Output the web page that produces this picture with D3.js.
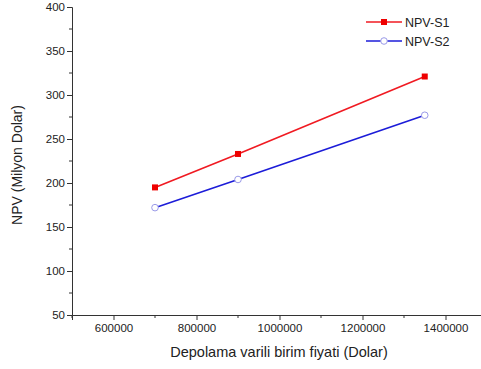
<!DOCTYPE html>
<html>
<head>
<meta charset="utf-8">
<script src="https://cdn.jsdelivr.net/npm/d3@7"></script>
<style>
  body { margin: 0; background: #fff; }
  text { font-family: "Liberation Sans", Arial, sans-serif; fill: #222; }
</style>
</head>
<body>
<div id="plot"></div>
<script>
// data
var prices = [700000, 900000, 1350000];
var npvS1 = [195, 233, 321];
var npvS2 = [172, 204, 277];
var seriesNames = ["NPV-S1", "NPV-S2"];
var xTicks = [600000, 800000, 1000000, 1200000, 1400000];
var xMinor = [500000, 700000, 900000, 1100000, 1300000, 1500000];
var yTicks = [50, 100, 150, 200, 250, 300, 350, 400];
var yMinor = [75, 125, 175, 225, 275, 325, 375];

var svgWidth = 481;
var svgHeight = 369;
var margin = { top: 7, right: 0, bottom: 54, left: 72 };
var height = svgHeight - margin.top - margin.bottom;

var svg = d3.select("#plot")
  .append("svg")
  .attr("width", svgWidth)
  .attr("height", svgHeight);

var chartGroup = svg.append("g")
  .attr("transform", `translate(${margin.left}, ${margin.top})`);

// x axis runs off the right edge of the picture
var xScale = d3.scaleLinear()
  .domain([500000, 1500000])
  .range([0, 415]);

var yScale = d3.scaleLinear()
  .domain([50, 400])
  .range([height, 0]);

var bottomAxis = d3.axisBottom(xScale)
  .tickValues(xTicks)
  .tickFormat(d3.format("d"))
  .tickSizeOuter(0)
  .tickSize(5);

var leftAxis = d3.axisLeft(yScale)
  .tickValues(yTicks)
  .tickSizeOuter(0)
  .tickSize(5);

var xAxisG = chartGroup.append("g")
  .attr("transform", `translate(0, ${height})`)
  .call(bottomAxis);

var yAxisG = chartGroup.append("g")
  .call(leftAxis);

// minor ticks
xAxisG.selectAll(".minor")
  .data(xMinor)
  .enter()
  .append("line")
  .attr("class", "minor")
  .attr("x1", d => xScale(d))
  .attr("x2", d => xScale(d))
  .attr("y1", 0)
  .attr("y2", 3)
  .attr("stroke", "#333");

yAxisG.selectAll(".minor")
  .data(yMinor)
  .enter()
  .append("line")
  .attr("class", "minor")
  .attr("x1", 0)
  .attr("x2", -3)
  .attr("y1", d => yScale(d))
  .attr("y2", d => yScale(d))
  .attr("stroke", "#333");

[xAxisG, yAxisG].forEach(g => {
  g.select(".domain").attr("stroke", "#333");
  g.selectAll(".tick line").attr("stroke", "#333");
  g.selectAll(".tick text")
    .style("font-family", "Liberation Sans, Arial, sans-serif")
    .style("font-size", "11.5px")
    .attr("fill", "#222");
});
xAxisG.selectAll(".tick text").attr("y", 9);
yAxisG.selectAll(".tick text").attr("x", -7);

// axis labels
chartGroup.append("text")
  .attr("transform", "rotate(-90)")
  .attr("x", 0 - (height / 2) - 4)
  .attr("y", 0 - 50)
  .attr("text-anchor", "middle")
  .style("font-size", "14px")
  .text("NPV (Milyon Dolar)");

chartGroup.append("text")
  .attr("x", 207)
  .attr("y", height + 42)
  .attr("text-anchor", "middle")
  .style("font-size", "14.5px")
  .text("Depolama varili birim fiyati (Dolar)");

var line = d3.line()
  .x(d => xScale(d[0]))
  .y(d => yScale(d[1]));

var s1 = prices.map((p, i) => [p, npvS1[i]]);
var s2 = prices.map((p, i) => [p, npvS2[i]]);

chartGroup.append("path")
  .datum(s1)
  .attr("d", line)
  .attr("fill", "none")
  .attr("stroke", "#f01a22")
  .attr("stroke-width", 1.6);

chartGroup.append("path")
  .datum(s2)
  .attr("d", line)
  .attr("fill", "none")
  .attr("stroke", "#1c1cd8")
  .attr("stroke-width", 1.6);

chartGroup.selectAll(".sq")
  .data(s1)
  .enter()
  .append("rect")
  .attr("class", "sq")
  .attr("x", d => xScale(d[0]) - 3)
  .attr("y", d => yScale(d[1]) - 3)
  .attr("width", 6)
  .attr("height", 6)
  .attr("fill", "#ee0000");

chartGroup.selectAll(".circ")
  .data(s2)
  .enter()
  .append("circle")
  .attr("class", "circ")
  .attr("cx", d => xScale(d[0]))
  .attr("cy", d => yScale(d[1]))
  .attr("r", 3.3)
  .attr("fill", "#fff")
  .attr("stroke", "#9a9ae8")
  .attr("stroke-width", 1);

// legend
var legend = svg.append("g").attr("transform", "translate(366, 22)");

legend.append("line")
  .attr("x1", 0).attr("x2", 36).attr("y1", 0).attr("y2", 0)
  .attr("stroke", "#f01a22").attr("stroke-width", 1.6);
legend.append("rect")
  .attr("x", 15).attr("y", -3).attr("width", 6).attr("height", 6)
  .attr("fill", "#ee0000");
legend.append("text")
  .attr("x", 39).attr("y", 4.5)
  .style("font-size", "12.5px")
  .text(seriesNames[0]);

legend.append("line")
  .attr("x1", 0).attr("x2", 36).attr("y1", 19).attr("y2", 19)
  .attr("stroke", "#1c1cd8").attr("stroke-width", 1.6);
legend.append("circle")
  .attr("cx", 18).attr("cy", 19).attr("r", 3.3)
  .attr("fill", "#fff").attr("stroke", "#9a9ae8").attr("stroke-width", 1);
legend.append("text")
  .attr("x", 39).attr("y", 23.5)
  .style("font-size", "12.5px")
  .text(seriesNames[1]);
</script>
</body>
</html>
